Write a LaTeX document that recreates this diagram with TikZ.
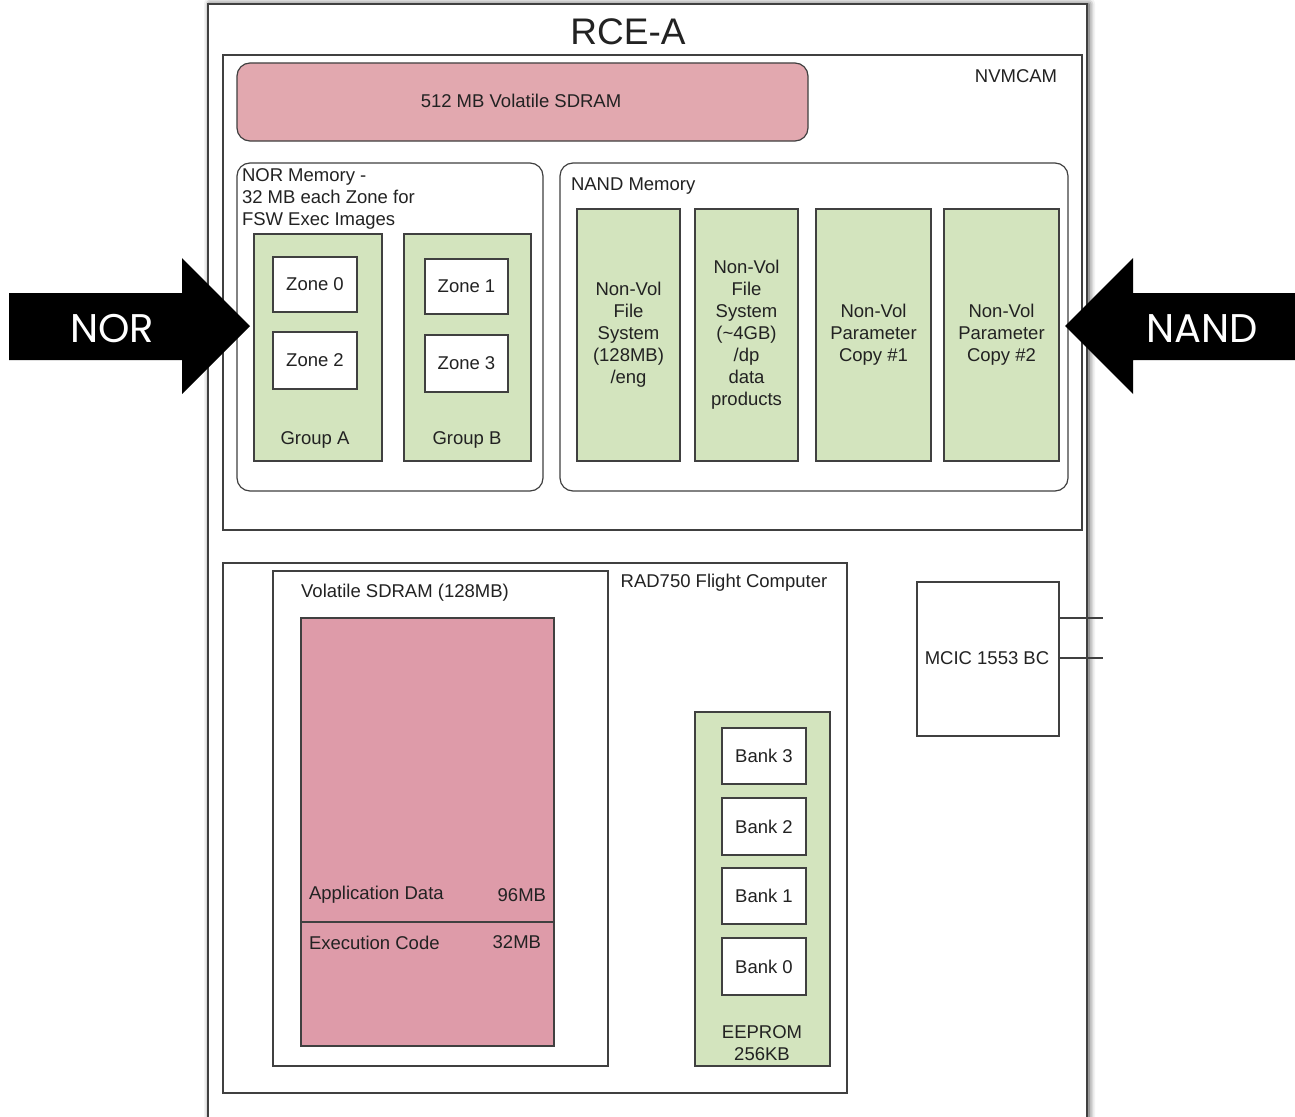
\documentclass[tikz,border=0pt]{standalone}
\usepackage{fontspec}
\setmainfont{Liberation Sans}
\newfontfamily\arrowfont{Poppins}
\usetikzlibrary{shadows.blur}

\definecolor{edge}{HTML}{404040}
\definecolor{txt}{HTML}{222222}
\definecolor{sdrampink}{HTML}{E2A8AF}
\definecolor{codepink}{HTML}{DE9BA9}
\definecolor{memgreen}{HTML}{D3E4BE}

% box node from its corner coordinates: style, name, x1, y1, x2, y2
\newcommand\blk[6]{%
  \node[#1, minimum width={#5-#3}, minimum height={#6-#4}]
    (#2) at ({(#3+#5)/2},{(#4+#6)/2}) {};}

\begin{document}
\begin{tikzpicture}[
  x=1pt, y=-1pt,
  every node/.style={inner sep=0pt, outer sep=0pt, text=txt,
    font=\fontsize{18.5}{22}\selectfont},
  frame/.style={rectangle, draw=edge, line width=1.2pt, fill=white},
  rframe/.style={frame, rounded corners=13pt},
  greenbox/.style={frame, fill=memgreen},
  lbl/.style={align=center},
  bigarrow/.style={fill=black},
  arrowtext/.style={text=white, font=\arrowfont\fontsize{40}{44}\selectfont},
]
\useasboundingbox (0,0) rectangle (1295,1116);
\clip (0,0) rectangle (1295,1116);

% outer RCE-A enclosure
\blk{frame, line width=1.8pt, blur shadow={shadow xshift=2pt, shadow yshift=0pt,
  shadow blur radius=6pt, shadow opacity=80}}{rce}{208}{4}{1087}{1150}
\node[font=\fontsize{37}{40}\selectfont] (rcetitle) at (628,32) {RCE-A};

% NVMCAM
\blk{frame}{nvmcam}{223}{55}{1082}{530}
\node (nvmcamlbl) at (1016,76) {NVMCAM};

\blk{rframe, fill=sdrampink}{sdram}{237}{63}{808}{141}
\node (sdramlbl) at (521,101) {512 MB Volatile SDRAM};

% NOR memory
\blk{rframe}{nor}{237}{163}{543}{491}
\node[anchor=north west, align=left] (norlbl) at (242,169)
  {NOR Memory -\\32 MB each Zone for\\FSW Exec Images};
\blk{greenbox}{groupa}{254}{234}{382}{461}
\blk{greenbox}{groupb}{404}{234}{531}{461}
\node (groupalbl) at (315,440) {Group A};
\node (groupblbl) at (467,440) {Group B};
\blk{frame}{zone0}{273}{257}{357}{312}
\blk{frame}{zone2}{273}{332}{357}{389}
\blk{frame}{zone1}{425}{259}{508}{314}
\blk{frame}{zone3}{425}{335}{508}{392}
\node at (zone0) {Zone 0};
\node at (zone2) {Zone 2};
\node at (zone1) {Zone 1};
\node at (zone3) {Zone 3};

% NAND memory
\blk{rframe}{nand}{560}{163}{1068}{491}
\node[anchor=west] (nandlbl) at (571,186) {NAND Memory};
\blk{greenbox}{fseng}{577}{209}{680}{461}
\blk{greenbox}{fsdp}{695}{209}{798}{461}
\blk{greenbox}{parone}{816}{209}{931}{461}
\blk{greenbox}{partwo}{944}{209}{1059}{461}
\node[lbl] at (fseng) {Non-Vol\\File\\System\\(128MB)\\/eng};
\node[lbl] at (fsdp) {Non-Vol\\File\\System\\(\textasciitilde4GB)\\/dp\\data\\products};
\node[lbl] at (parone) {Non-Vol\\Parameter\\Copy \#1};
\node[lbl] at (partwo) {Non-Vol\\Parameter\\Copy \#2};

% RAD750 flight computer
\blk{frame}{rad}{223}{563}{847}{1093}
\node (radlbl) at (724,583) {RAD750 Flight Computer};
\blk{frame}{volsdram}{273}{571}{608}{1066}
\node (vollbl) at (405,593) {Volatile SDRAM (128MB)};
\blk{frame, fill=codepink}{ram}{301}{618}{554}{1046}
\coordinate (divl) at (301,922);
\draw[edge, line width=1.2pt] (divl) -- (divl -| ram.east);
\node[anchor=west] (appdata) at (309,895) {Application Data};
\node[anchor=east] (appsize) at (546,895) {96MB};
\node[anchor=west] (execcode) at (309,943) {Execution Code};
\node[anchor=east] (execsize) at (541,942) {32MB};

\blk{greenbox}{eeprom}{695}{712}{830}{1066}
\blk{frame}{bank3}{722}{728}{806}{784}
\blk{frame}{bank2}{722}{798}{806}{855}
\blk{frame}{bank1}{722}{868}{806}{924}
\blk{frame}{bank0}{722}{938}{806}{995}
\node at (bank3) {Bank 3};
\node at (bank2) {Bank 2};
\node at (bank1) {Bank 1};
\node at (bank0) {Bank 0};
\node[lbl] (eepromlbl) at (762,1043) {EEPROM\\256KB};

% 1553 bus controller and its bus stubs
\blk{frame}{mcic}{917}{582}{1059}{736}
\node at (987,658) {MCIC 1553 BC};
\coordinate (busa) at (1103,618);
\coordinate (busb) at (1103,658);
\draw[edge, line width=1.2pt] (mcic.east |- busa) -- (busa);
\draw[edge, line width=1.2pt] (mcic.east |- busb) -- (busb);

% NOR / NAND pointers
\fill[bigarrow] (9,293) -- (182,293) -- (182,258) -- (250,326)
  -- (182,394) -- (182,360) -- (9,360) -- cycle;
\node[arrowtext] (norarrow) at (112,329) {NOR};
\fill[bigarrow] (1295,293) -- (1133,293) -- (1133,258) -- (1065,326)
  -- (1133,394) -- (1133,360) -- (1295,360) -- cycle;
\node[arrowtext] (nandarrow) at (1202,329) {NAND};
\end{tikzpicture}
\end{document}
